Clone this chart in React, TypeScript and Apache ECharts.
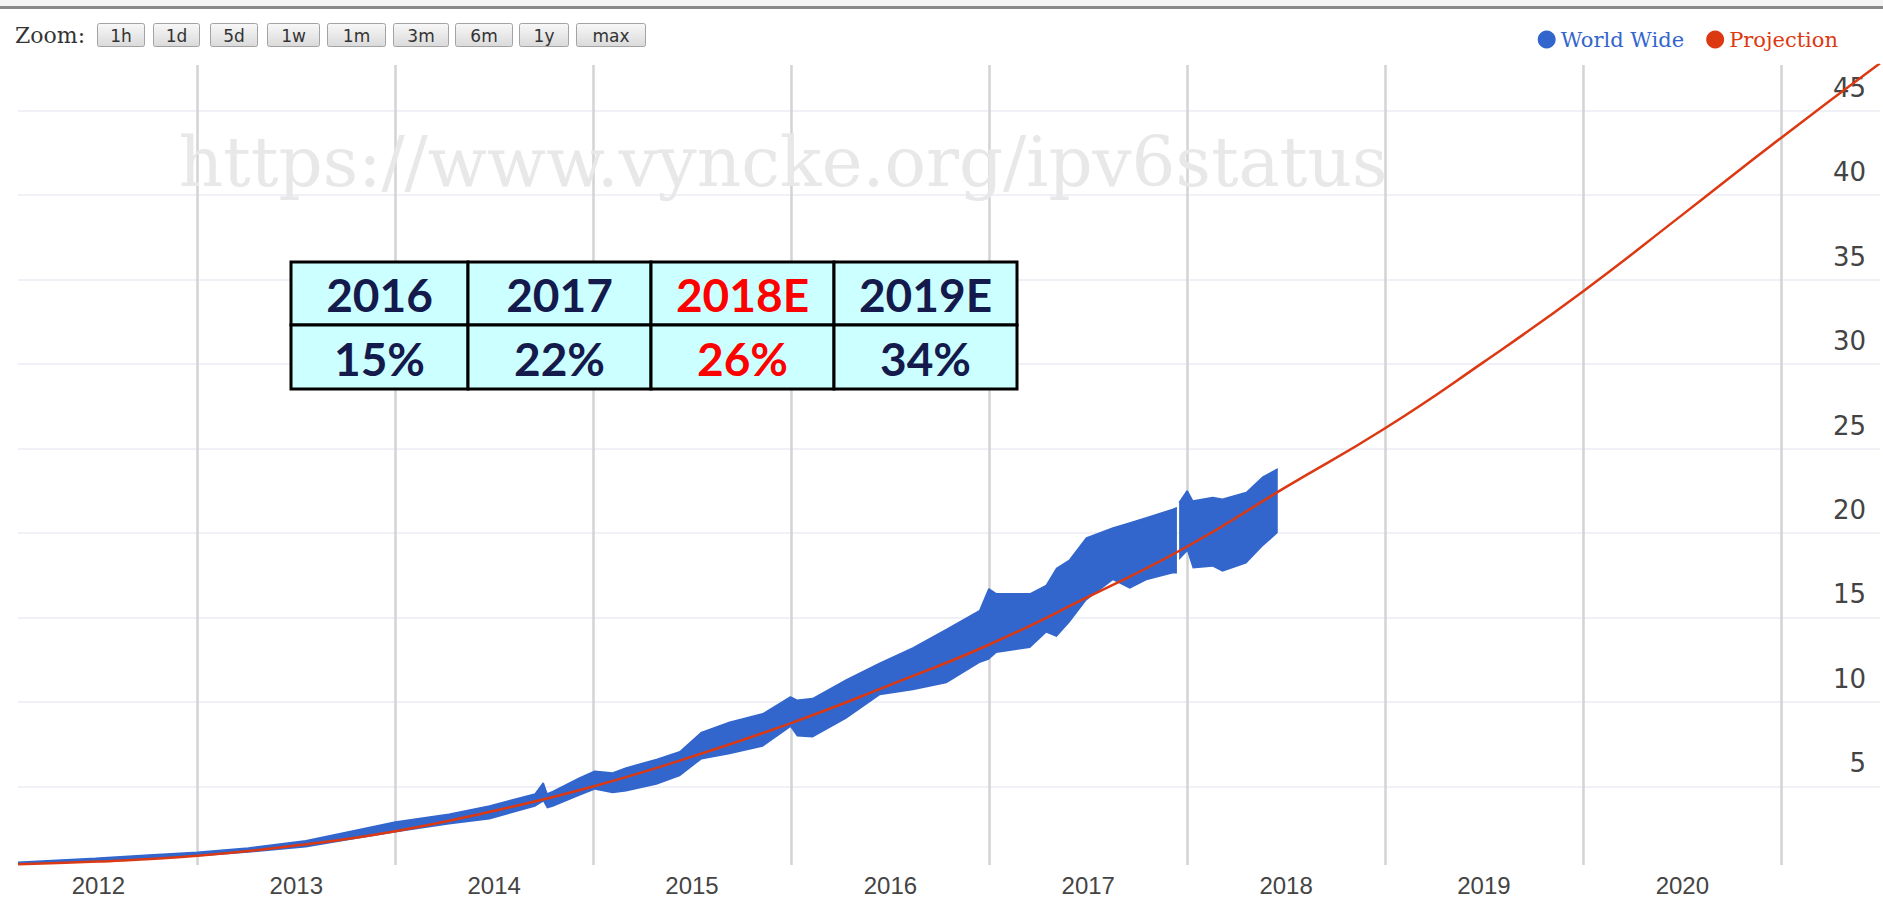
import React, { useEffect, useRef } from 'react';
import * as echarts from 'echarts';

// ---- data ----
const wwDates = [
  '2012-02-05', '2012-06-27', '2012-10-11', '2013-01-01', '2013-04-05', '2013-07-20', '2013-10-12',
  '2014-01-01', '2014-04-10', '2014-06-24', '2014-09-16', '2014-10-01', '2014-10-08', '2014-10-19',
  '2014-12-07', '2015-01-04', '2015-02-06', '2015-03-03', '2015-04-28', '2015-06-10', '2015-07-20',
  '2015-09-10', '2015-11-10', '2015-12-31', '2016-01-12', '2016-02-10', '2016-04-12', '2016-06-13',
  '2016-08-13', '2016-10-14', '2016-12-14', '2016-12-31', '2017-01-14', '2017-03-17', '2017-04-16',
  '2017-05-05', '2017-05-29', '2017-06-29', '2017-08-17', '2017-09-17', '2017-10-18', '2017-12-05',
  '2017-12-13', '2017-12-15', '2017-12-17', '2018-01-01', '2018-01-11', '2018-02-17', '2018-03-07',
  '2018-04-20', '2018-05-20', '2018-06-17',
];
const wwHigh: (number | null)[] = [
  0.52, 0.75, 0.95, 1.1, 1.36, 1.78, 2.35,
  2.9, 3.35, 3.85, 4.55, 5.2, 4.55, 4.7,
  5.5, 5.9, 5.8, 6.1, 6.6, 7.05, 8.2,
  8.8, 9.3, 10.3, 10.1, 10.2, 11.3, 12.3,
  13.2, 14.3, 15.4, 16.7, 16.4, 16.4, 16.9,
  17.9, 18.4, 19.7, 20.3, 20.6, 20.9, 21.4,
  21.5, null, 21.8, 22.5, 21.9, 22.1, 22.0,
  22.4, 23.3, 23.8,
];
const wwLow: (number | null)[] = [
  0.36, 0.52, 0.72, 0.86, 1.08, 1.38, 1.85,
  2.28, 2.75, 3.05, 3.8, 4.1, 3.7, 3.8,
  4.45, 4.8, 4.6, 4.7, 5.1, 5.6, 6.6,
  6.9, 7.35, 8.5, 7.95, 7.9, 9.0, 10.4,
  10.7, 11.1, 12.3, 12.5, 12.9, 13.2, 14.1,
  13.85, 14.7, 16.0, 17.2, 16.7, 17.2, 17.6,
  17.6, null, 18.4, 18.9, 17.9, 18.0, 17.7,
  18.2, 19.2, 20.0,
];

const projDates = [
  '2012-02-05', '2012-07-01', '2013-01-01', '2013-07-01', '2014-01-01', '2014-07-01', '2015-01-01',
  '2015-07-01', '2016-01-01', '2016-07-01', '2017-01-01', '2017-07-01', '2018-01-01', '2018-07-01',
  '2019-01-01', '2019-07-01', '2020-01-01', '2020-07-01', '2021-01-01', '2021-07-02',
];
const projValues = [
  0.4, 0.55, 0.9, 1.5, 2.35, 3.55, 5.0,
  6.75, 8.75, 11.0, 13.4, 16.2, 19.2, 22.7,
  26.2, 30.1, 34.3, 38.8, 43.4, 47.8,
];

// year boundaries (grid lines) and the year names shown between them
const yearTickDates = [
  '2013-01-01', '2014-01-01', '2015-01-01', '2016-01-01', '2017-01-01',
  '2018-01-01', '2019-01-01', '2020-01-01', '2021-01-01',
];
const yearLabels = ['2012', '2013', '2014', '2015', '2016', '2017', '2018', '2019', '2020'];

const zoomButtons = ['1h', '1d', '5d', '1w', '1m', '3m', '6m', '1y', 'max'];
const tableYears = ['2016', '2017', '2018E', '2019E'];
const tableShares = ['15%', '22%', '26%', '34%'];
const tableHighlight = '2018E';
const watermarkText = 'https://www.vyncke.org/ipv6status';
const seriesNames = ['World Wide', 'Projection'];

// ---- layout (decoration) ----
const BUTTON_BOXES = [
  [97, 47], [153, 46], [210, 47], [267, 52], [327, 58], [393, 55], [455, 57], [519, 49], [576, 69],
];
const TABLE_COLS = [291, 468, 651, 834, 1017];
const TABLE_ROWS = [262, 325, 389];

const BLUE = '#3366cc';
const RED = '#dc3912';
const NAVY = '#141a4c';

function App() {
  const ref = useRef<HTMLDivElement>(null);

  useEffect(() => {
    const chart = echarts.init(ref.current!, null, { renderer: 'svg' });

    const labelByYear: Record<string, string> = {};
    yearTickDates.forEach((d, i) => {
      labelByYear[d.slice(0, 4)] = yearLabels[i];
    });

    const lowData = wwDates.map((d, i) => [d, wwLow[i]]);
    const rangeData = wwDates.map((d, i) =>
      [d, wwHigh[i] == null || wwLow[i] == null ? null : +((wwHigh[i] as number) - (wwLow[i] as number)).toFixed(3)]
    );
    const projData = projDates.map((d, i) => [d, projValues[i]]);

    const graphics: any[] = [];
    graphics.push({ type: 'rect', shape: { x: 0, y: 0, width: 1883, height: 6 }, style: { fill: '#f5f5f5' }, z: 1 });
    graphics.push({ type: 'rect', shape: { x: 0, y: 6, width: 1883, height: 3 }, style: { fill: '#8a8a8a' }, z: 1 });
    graphics.push({
      type: 'text', x: 15, y: 35, z: 5,
      style: {
        text: 'Zoom:', fill: '#333', fontFamily: 'DejaVu Serif', fontSize: 22,
        align: 'left', verticalAlign: 'middle', textAlign: 'left', textVerticalAlign: 'middle',
      },
    });
    zoomButtons.forEach((b, i) => {
      const [bx, bw] = BUTTON_BOXES[i];
      graphics.push({
        type: 'rect', z: 5,
        shape: { x: bx + 0.5, y: 23.5, width: bw, height: 23, r: 2 },
        style: {
          fill: new echarts.graphic.LinearGradient(0, 0, 0, 1, [
            { offset: 0, color: '#f8f8f8' },
            { offset: 1, color: '#dadada' },
          ]),
          stroke: '#a3a3a3', lineWidth: 1,
        },
      });
      graphics.push({
        type: 'text', z: 6, x: bx + bw / 2 + 0.5, y: 35.5,
        style: {
          text: b, fill: '#333', fontFamily: 'DejaVu Sans', fontSize: 17,
          align: 'center', verticalAlign: 'middle', textAlign: 'center', textVerticalAlign: 'middle',
        },
      });
    });
    graphics.push({
      type: 'text', x: 783, y: 162, z: 1, silent: true,
      style: {
        text: watermarkText, fill: '#e8e8e8', fontFamily: 'DejaVu Serif', fontSize: 69,
        align: 'center', verticalAlign: 'middle', textAlign: 'center', textVerticalAlign: 'middle',
      },
    });
    // table
    tableYears.forEach((yr, c) => {
      const x0 = TABLE_COLS[c];
      const x1 = TABLE_COLS[c + 1];
      [yr, tableShares[c]].forEach((txt, r) => {
        const y0 = TABLE_ROWS[r];
        const y1 = TABLE_ROWS[r + 1];
        graphics.push({
          type: 'rect', z: 50,
          shape: { x: x0, y: y0, width: x1 - x0, height: y1 - y0 },
          style: { fill: '#ccffff', stroke: '#000', lineWidth: 3 },
        });
        graphics.push({
          type: 'text', z: 51, x: (x0 + x1) / 2, y: (y0 + y1) / 2 + 1,
          style: {
            text: txt, fill: yr === tableHighlight ? '#ff0000' : NAVY,
            fontFamily: 'Lato', fontWeight: 'bold', fontSize: 46,
            align: 'center', verticalAlign: 'middle', textAlign: 'center', textVerticalAlign: 'middle',
          },
        });
      });
    });

    const option: any = {
      animation: false,
      backgroundColor: '#ffffff',
      grid: { left: 18, right: 3, top: 65, bottom: 34, containLabel: false },
      legend: {
        top: 24, right: 40, icon: 'circle', itemWidth: 18, itemHeight: 18, itemGap: 22,
        selectedMode: false,
        textStyle: { fontFamily: 'DejaVu Serif', fontSize: 21 },
        data: [
          { name: seriesNames[0], textStyle: { color: BLUE } },
          { name: seriesNames[1], textStyle: { color: RED } },
        ],
      },
      xAxis: {
        type: 'time',
        min: new Date(2012, 1, 5).getTime(),
        max: new Date(2021, 6, 2).getTime(),
        splitNumber: 9,
        axisLine: { show: false },
        axisTick: { show: false },
        splitLine: {
          show: true, showMinLine: false, showMaxLine: false,
          lineStyle: { color: '#d3d3d3', width: 2.5 },
        },
        axisLabel: {
          showMinLabel: false, showMaxLabel: false,
          formatter: (v: number) => {
            const d = new Date(v);
            if (d.getMonth() !== 0 || d.getDate() !== 1) return '';
            return labelByYear[String(d.getFullYear())] ?? '';
          },
          color: '#444', fontFamily: 'Liberation Sans', fontSize: 24, margin: 8,
          padding: [0, 198, 0, 0],
        },
      },
      yAxis: {
        type: 'value', position: 'right', min: 0.35, max: 47.7, splitNumber: 9,
        axisLine: { show: false }, axisTick: { show: false },
        splitLine: {
          show: true, showMinLine: false, showMaxLine: false,
          lineStyle: { color: '#ebebf5', width: 1.5 },
        },
        axisLabel: {
          inside: true, margin: 14, verticalAlign: 'bottom', padding: [0, 0, 10, 0],
          showMinLabel: false, showMaxLabel: false,
          color: '#444', fontFamily: 'DejaVu Sans', fontSize: 26,
        },
      },
      graphic: { elements: graphics },
      series: [
        {
          name: 'base', type: 'line', stack: 'ww', data: lowData, symbol: 'none',
          lineStyle: { width: 0, opacity: 0 }, silent: true, z: 2,
          emphasis: { disabled: true },
        },
        {
          name: seriesNames[0], type: 'line', stack: 'ww', data: rangeData, symbol: 'none',
          color: BLUE, lineStyle: { color: BLUE, width: 1.5 },
          areaStyle: { color: BLUE, opacity: 1 }, z: 3,
          emphasis: { disabled: true },
        },
        {
          name: seriesNames[1], type: 'line', data: projData, symbol: 'none', smooth: true,
          color: RED, lineStyle: { color: RED, width: 2.5 }, z: 4,
          emphasis: { disabled: true },
        },
      ],
    };

    chart.setOption(option);
    return () => chart.dispose();
  }, []);

  return (
    <div
      ref={ref}
      style={{ position: 'fixed', left: 0, top: 0, width: 1883, height: 899, background: '#fff' }}
    />
  );
}

export default App;
